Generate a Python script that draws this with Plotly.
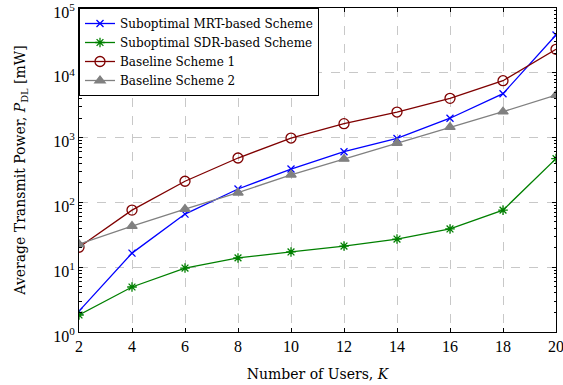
import plotly.graph_objects as go

K = [2, 4, 6, 8, 10, 12, 14, 16, 18, 20]
mrt = [2.1, 16.5, 66, 161, 327, 605, 970, 1990, 4760, 38300]
sdr = [1.83, 4.95, 9.7, 13.9, 17.2, 21.2, 27.2, 38.9, 76, 473]
base1 = [20.3, 76, 212, 484, 985, 1640, 2480, 4040, 7550, 23000]
base2 = [22.6, 43, 79, 141, 267, 468, 826, 1450, 2510, 4540]

names = ["Suboptimal MRT-based Scheme", "Suboptimal SDR-based Scheme",
         "Baseline Scheme 1", "Baseline Scheme 2"]
colors = ["#0000ff", "#008000", "#7f0000", "#808080"]
symbols = ["x-thin-open", "asterisk-open", "circle-open", "triangle-up"]
sizes = [7, 8, 10, 9]

y_tickvals = [1, 10, 100, 1000, 10000, 100000]
y_ticktext = ["10<sup>0</sup>", "10<sup>1</sup>", "10<sup>2</sup>",
              "10<sup>3</sup>", "10<sup>4</sup>", "10<sup>5</sup>"]

tick_font = "Liberation Serif, serif"
text_font = "DejaVu Serif, serif"

fig = go.Figure()
for name, ys, c, s, sz in zip(names, [mrt, sdr, base1, base2], colors, symbols, sizes):
    fig.add_trace(go.Scatter(
        x=K, y=ys, name=name, mode="lines+markers",
        line=dict(color=c, width=1.3),
        marker=dict(symbol=s, size=sz, color=c, line=dict(color=c, width=1.3)),
    ))

fig.update_layout(
    width=563, height=385,
    margin=dict(l=79, r=7, t=8, b=53, autoexpand=False),
    paper_bgcolor="white", plot_bgcolor="white",
    font=dict(family=text_font, size=14, color="black"),
    legend=dict(x=0, y=1, xanchor="left", yanchor="top",
                bordercolor="black", borderwidth=1, bgcolor="white",
                font=dict(family=text_font, size=12), tracegroupgap=0, itemwidth=30),
    showlegend=True,
)
fig.update_xaxes(
    range=[2, 20], tickvals=K, ticks="inside", ticklen=4, tickcolor="black",
    showline=True, linecolor="black", linewidth=1, mirror="ticks",
    showgrid=True, gridcolor="#c8c8c8", griddash="dash", gridwidth=1,
    zeroline=False, ticklabeloverflow="allow", automargin=False,
    title=dict(text="Number of Users, <i>K</i>", standoff=14,
               font=dict(family=text_font, size=14)),
    tickfont=dict(family=tick_font, size=16),
)
fig.update_yaxes(
    type="log", range=[0, 5], tickvals=y_tickvals, ticktext=y_ticktext,
    ticks="inside", ticklen=4, tickcolor="black",
    showline=True, linecolor="black", linewidth=1, mirror="ticks",
    showgrid=True, gridcolor="#c8c8c8", griddash="dash", gridwidth=1,
    zeroline=False, ticklabeloverflow="allow", automargin=False,
    ticklabelshift=4,
    minor=dict(ticks="inside", ticklen=2.5, tickcolor="black", dtick="D1", showgrid=False),
    title=dict(text="Average Transmit Power, <i>P</i><sub>DL</sub> [mW]", standoff=24,
               font=dict(family=text_font, size=14)),
    tickfont=dict(family=tick_font, size=16),
)

fig.write_html("out.html")
